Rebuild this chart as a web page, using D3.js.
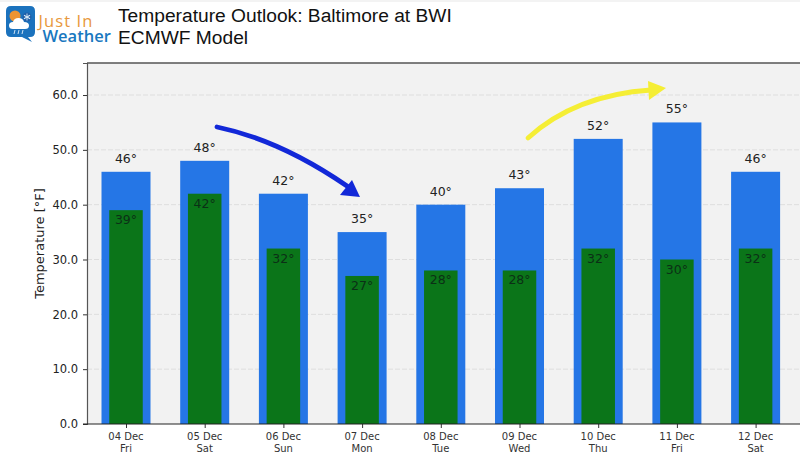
<!DOCTYPE html>
<html>
<head>
<meta charset="utf-8">
<script src="https://cdn.jsdelivr.net/npm/d3@7"></script>
<style>
html,body{margin:0;padding:0;background:#fff;overflow:hidden}
svg{display:block}
text{font-family:"DejaVu Sans",sans-serif}
</style>
</head>
<body>
<div id="chart"></div>
<script>
var fechas=["04 Dec","05 Dec","06 Dec","07 Dec","08 Dec","09 Dec","10 Dec","11 Dec","12 Dec"];
var dias=["Fri","Sat","Sun","Mon","Tue","Wed","Thu","Fri","Sat"];
var maximas=[46,48,42,35,40,43,52,55,46];
var minimas=[39,42,32,27,28,28,32,30,32];
var ticksY=[0,10,20,30,40,50,60];

var ancho=800,alto=453;
var svg=d3.select("#chart").append("svg").attr("width",ancho).attr("height",alto);

var izq=87,arriba=63,abajo=424;
var x=d3.scalePoint().domain(fechas).range([126,755.6]);
var y=d3.scaleLinear().domain([0,65.84]).range([abajo,arriba]);

// franja clara arriba de la imagen
svg.append("rect").attr("x",0).attr("y",0).attr("width",ancho).attr("height",2).attr("fill","#f3f3f3");

// fondo del grafico
svg.append("rect").attr("x",izq).attr("y",arriba).attr("width",ancho-izq).attr("height",abajo-arriba).attr("fill","#f2f2f2");

// rejilla
svg.selectAll("line.rejilla").data(ticksY.slice(1)).enter().append("line")
	.attr("class","rejilla")
	.attr("x1",izq).attr("x2",ancho)
	.attr("y1",function(d){return y(d)}).attr("y2",function(d){return y(d)})
	.attr("stroke","#dedede").attr("stroke-width",1).attr("stroke-dasharray","5,2");

// barras
var anchoAzul=49,anchoVerde=33.5;
svg.selectAll("rect.maxima").data(maximas).enter().append("rect")
	.attr("class","maxima")
	.attr("x",function(d,i){return x(fechas[i])-anchoAzul/2})
	.attr("y",function(d){return y(d)})
	.attr("width",anchoAzul)
	.attr("height",function(d){return y(0)-y(d)})
	.attr("fill","#2576e6");
svg.selectAll("rect.minima").data(minimas).enter().append("rect")
	.attr("class","minima")
	.attr("x",function(d,i){return x(fechas[i])-anchoVerde/2})
	.attr("y",function(d){return y(d)})
	.attr("width",anchoVerde)
	.attr("height",function(d){return y(0)-y(d)})
	.attr("fill","#0b7519");

// etiquetas
svg.selectAll("text.etqMax").data(maximas).enter().append("text")
	.attr("class","etqMax")
	.attr("x",function(d,i){return x(fechas[i])})
	.attr("y",function(d){return y(d)-9})
	.attr("text-anchor","middle").attr("font-size",12.5).attr("fill","#222")
	.text(function(d){return d+"°"});
svg.selectAll("text.etqMin").data(minimas).enter().append("text")
	.attr("class","etqMin")
	.attr("x",function(d,i){return x(fechas[i])})
	.attr("y",function(d){return y(d)+14})
	.attr("text-anchor","middle").attr("font-size",12.5).attr("fill","#0b3016")
	.text(function(d){return d+"°"});

// ejes
var ejeY=svg.append("g").attr("transform","translate("+izq+",0)")
	.call(d3.axisLeft(y).tickValues(ticksY).tickFormat(d3.format(".1f")).tickSize(4).tickPadding(5));
ejeY.selectAll("text").attr("font-size",11.5).attr("fill","#222").style("font-family",'"DejaVu Sans",sans-serif');
ejeY.selectAll("line").attr("stroke","#333");
ejeY.select(".domain").attr("stroke","#555").attr("stroke-width",1.2);

var ejeX=svg.append("g").attr("transform","translate(0,"+abajo+")")
	.call(d3.axisBottom(x).tickSize(4).tickFormat(""));
ejeX.select(".domain").remove();
ejeX.selectAll("line").attr("stroke","#333");
svg.append("line").attr("x1",izq-4).attr("x2",ancho).attr("y1",abajo).attr("y2",abajo).attr("stroke","#222").attr("stroke-width",1.2);
svg.append("line").attr("x1",izq).attr("x2",ancho).attr("y1",arriba).attr("y2",arriba).attr("stroke","#555").attr("stroke-width",1.4);

svg.selectAll("text.fecha").data(fechas).enter().append("text")
	.attr("class","fecha").attr("x",function(d){return x(d)}).attr("y",440)
	.attr("text-anchor","middle").attr("font-size",10).attr("fill","#333")
	.text(function(d){return d});
svg.selectAll("text.dia").data(dias).enter().append("text")
	.attr("class","dia").attr("x",function(d,i){return x(fechas[i])}).attr("y",452)
	.attr("text-anchor","middle").attr("font-size",10).attr("fill","#333")
	.text(function(d){return d});

// titulo eje y
svg.append("text").attr("transform","translate(44,243.5) rotate(-90)")
	.attr("text-anchor","middle").attr("font-size",13).attr("fill","#222")
	.text("Temperature [°F]");

// titulo
svg.append("text").attr("x",118).attr("y",22).attr("font-size",19.2).attr("fill","#111")
	.style("font-family",'"Liberation Sans",sans-serif').text("Temperature Outlook: Baltimore at BWI");
svg.append("text").attr("x",118).attr("y",44).attr("font-size",19.2).attr("fill","#111")
	.style("font-family",'"Liberation Sans",sans-serif').text("ECMWF Model");

// flechas
function flecha(camino,punta,color,grueso){
	svg.append("path").attr("d",camino).attr("fill","none").attr("stroke",color).attr("stroke-width",grueso).attr("stroke-linecap","round");
	svg.append("path").attr("d",punta).attr("fill",color);
}
flecha("M217,127 Q280,140 347,186","M352,180 L360,197 L340,195 Z","#1228d8",4.8);
flecha("M528,138 Q575,95 651,90","M648,81 L666,88 L649,100 Z","#f5ee35",4.8);

// logo
var logo=svg.append("g");
logo.append("path").attr("d","M11,6 H30 Q35,6 35,11 V32 Q35,37 30,37 H28 L32,42 L22,37 H11 Q6,37 6,32 V11 Q6,6 11,6 Z").attr("fill","#1b72bd");
logo.append("circle").attr("cx",15).attr("cy",16).attr("r",5.5).attr("fill","#ee9432");
logo.append("circle").attr("cx",27).attr("cy",17).attr("r",4.5).attr("fill","#1f5fa8");
[0,60,120].forEach(function(g){
	logo.append("line").attr("x1",27).attr("y1",13.5).attr("x2",27).attr("y2",20.5)
		.attr("transform","rotate("+g+",27,17)").attr("stroke","#dcecf8").attr("stroke-width",0.9);
});
logo.append("path").attr("d","M13,29 Q9,29 9,25.5 Q9,22 13,22 Q14,18 18.5,18 Q23,18 24,22 Q29,22 29,25.5 Q29,29 25,29 Z").attr("fill","#fff");
[15,19,23].forEach(function(r){
	logo.append("line").attr("x1",r).attr("y1",30).attr("x2",r-1).attr("y2",34).attr("stroke","#cfe3f4").attr("stroke-width",1);
});
logo.append("text").attr("x",38.5).attr("y",27).attr("font-size",16.5).attr("letter-spacing",1.1).attr("fill","#e8983c")
	.style("font-family",'"Open Sans",sans-serif').text("Just In");
logo.append("text").attr("x",42.5).attr("y",41.5).attr("font-size",16.5).attr("font-weight",600).attr("fill","#1878c0")
	.style("font-family",'"Open Sans",sans-serif').text("Weather");
</script>
</body>
</html>
